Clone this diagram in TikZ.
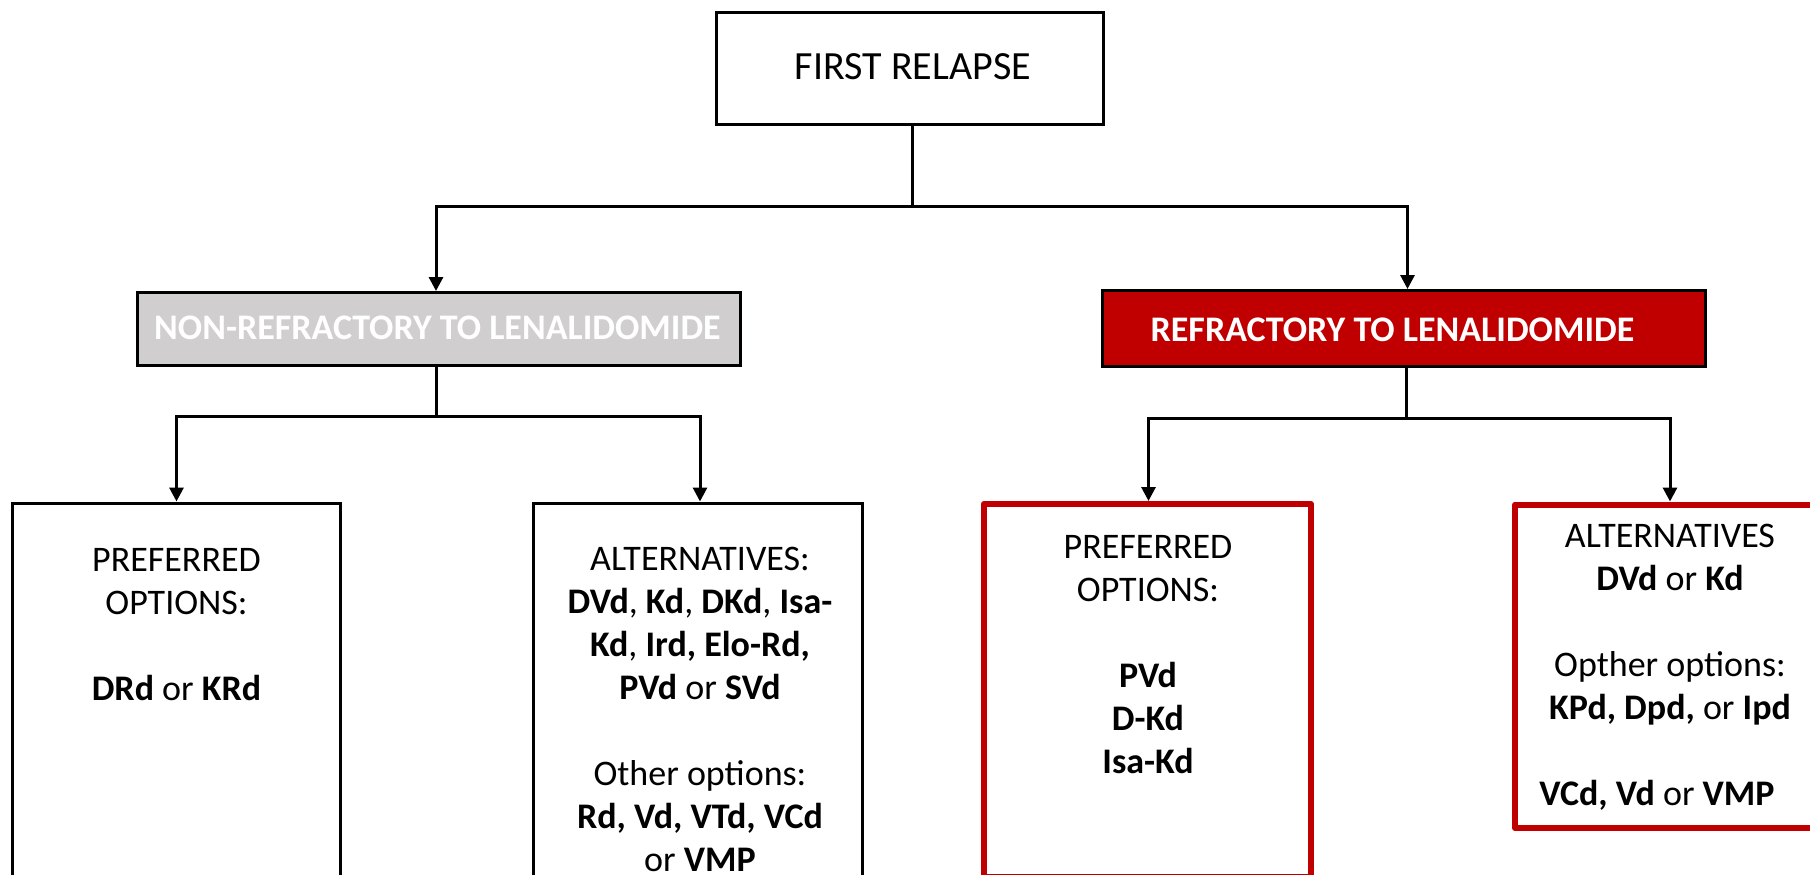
\documentclass[tikz,border=0pt]{standalone}
\usepackage{fontspec}
\setmainfont{Carlito}
\usetikzlibrary{arrows.meta}
\definecolor{redA}{HTML}{C00000}
\definecolor{grayA}{HTML}{D0CECE}
\newcommand\rowstack[1]{\vtop{\baselineskip=43pt\lineskiplimit=-100pt\lineskip=0pt\halign{\hfil##\hfil\cr#1\crcr}}}
\begin{document}
\begin{tikzpicture}[x=1pt,y=-1pt,
  tbody/.style={font=\fontsize{36}{43}\selectfont, inner sep=0, anchor=base},
  ttop/.style={font=\fontsize{40}{48}\selectfont, inner sep=0, anchor=base},
  thead/.style={font=\fontsize{36}{43}\selectfont\bfseries, text=white, inner sep=0, anchor=base},
  conn/.style={line width=3pt, draw=black},
  arr/.style={conn, -{Triangle[length=14pt,width=14pt]}},
  blk/.style={draw=black, line width=3pt, inner sep=0, fill=white},
  headbox/.style={draw=black, line width=3pt, inner sep=0},
  redframe/.style={draw=redA, line width=6pt, inner sep=0, line join=round, fill=white},
]
\useasboundingbox (0,0) rectangle (1810,875);
\clip (0,0) rectangle (1810,875);

% boxes
\node[blk, minimum width=387, minimum height=111.5] (top) at (909.5,68.75) {};
\node[headbox, fill=grayA, minimum width=602.5, minimum height=73] (nonref) at (438.75,329) {};
\node[headbox, fill=redA, minimum width=603, minimum height=75.5] (ref) at (1404,328.25) {};
\node[blk, minimum width=328, minimum height=400] (b1) at (176.5,703) {};
\node[blk, minimum width=329, minimum height=400] (b2) at (698,703) {};
\node[redframe, minimum width=327, minimum height=373] (b3) at (1147.5,690.5) {};
\node[redframe, minimum width=310, minimum height=323.5] (b4) at (1670,666.25) {};

% texts
\node[ttop] (ttxt) at (913,79) {FIRST RELAPSE};
\node[thead] (nonreftxt) at (437.5,339) {NON-REFRACTORY TO LENALIDOMIDE};
\node[thead] (reftxt) at (1392.5,341) {REFRACTORY TO LENALIDOMIDE};
\node[tbody] (b1txt) at (176.5,571) {\rowstack{PREFERRED\cr
OPTIONS:\cr
\cr
\textbf{DRd} or \textbf{KRd}}};
\node[tbody] (b2txt) at (700,570) {\rowstack{ALTERNATIVES:\cr
\textbf{DVd}, \textbf{Kd}, \textbf{DKd}, \textbf{Isa-}\cr
\textbf{Kd}, \textbf{Ird, Elo-Rd,}\cr
\textbf{PVd} or \textbf{SVd}\cr
\cr
Other options:\cr
\textbf{Rd, Vd, VTd, VCd}\cr
or \textbf{VMP}}};
\node[tbody] (b3txt) at (1148,558) {\rowstack{PREFERRED\cr
OPTIONS:\cr
\cr
\textbf{PVd}\cr
\textbf{D-Kd}\cr
\textbf{Isa-Kd}}};
\node[tbody] (b4txt) at (1670,547) {\rowstack{ALTERNATIVES\cr
\textbf{DVd} or \textbf{Kd}\cr
\cr
Opther options:\cr
\textbf{KPd, Dpd,} or \textbf{Ipd}\cr
\cr
\textbf{VCd, Vd} or \textbf{VMP}\hspace*{26pt}}};

% connectors
\draw[conn] ([xshift=3pt]top.south) -- ++(0,80.5) coordinate (j1);
\draw[arr] (j1) -| ([xshift=-2.75pt]nonref.north);
\draw[arr] (j1) -| ([xshift=3.5pt]ref.north);
\draw[conn] ([xshift=-2.75pt]nonref.south) -- ++(0,49) coordinate (j2);
\draw[arr] (j2) -| (b1.north);
\draw[arr] (j2) -| ([xshift=2pt]b2.north);
\draw[conn] ([xshift=2pt]ref.south) -- ++(0,50.5) coordinate (j3);
\draw[arr] (j3) -| ([xshift=1pt]b3.north);
\draw[arr] (j3) -| (b4.north);
\end{tikzpicture}
\end{document}
